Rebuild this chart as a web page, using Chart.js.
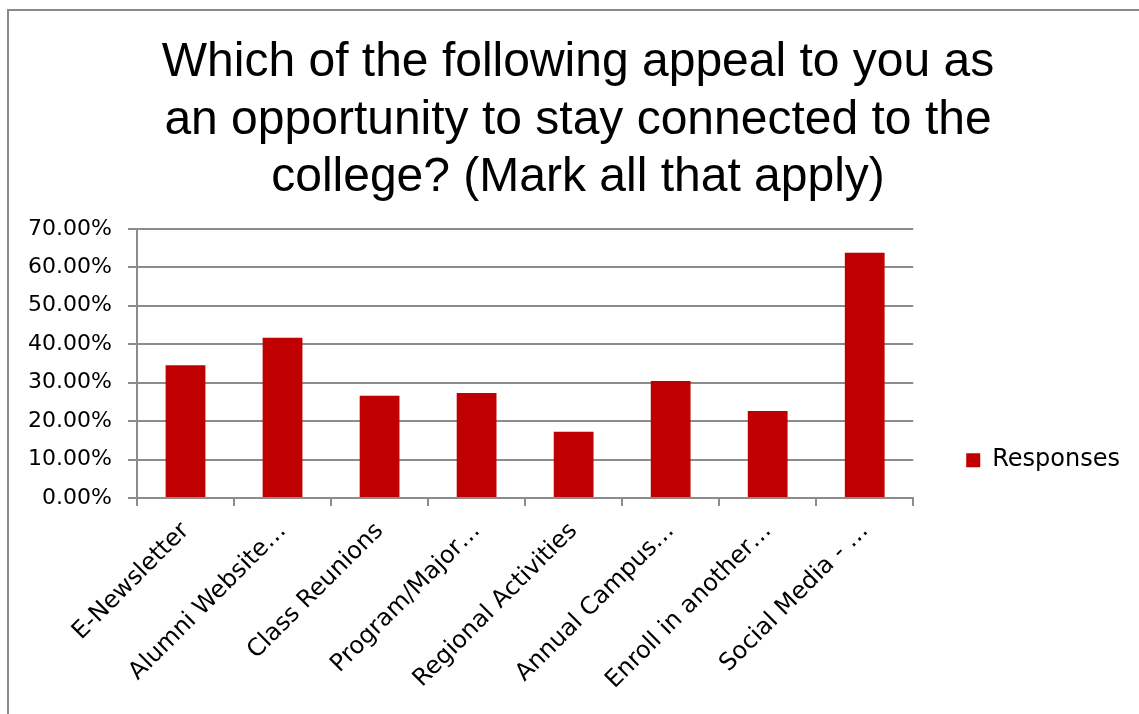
<!DOCTYPE html>
<html>
<head>
<meta charset="utf-8">
<script src="https://cdn.jsdelivr.net/npm/chart.js@4"></script>
<style>
  html, body { margin: 0; padding: 0; background: #fff; }
  canvas { display: block; }
</style>
</head>
<body>
<canvas id="chart" width="1139" height="714"></canvas>
<script>
// survey answers (share of respondents, %)
const categories = [
    "E-Newsletter",
    "Alumni Website…",
    "Class Reunions",
    "Program/Major…",
    "Regional Activities",
    "Annual Campus…",
    "Enroll in another…",
    "Social Media - …"
];
const responses = [34.5, 41.7, 26.6, 27.3, 17.2, 30.4, 22.6, 63.8];
const seriesName = "Responses";
const titleLines = [
    "Which of the following appeal to you as",
    "an opportunity to stay connected to the",
    "college? (Mark all that apply)"
];
const yMin = 0;
const yMax = 70;
const yStep = 10;

const gridGray = "#8c8c8c";
const barRed = "#c00000";
const labelFont = "'DejaVu Sans', sans-serif";

// outer chart border (left + top only, the rest is cropped)
const framePlugin = {
    id: "frame",
    beforeDraw(chart) {
        const ctx = chart.ctx;
        ctx.save();
        ctx.fillStyle = "#fff";
        ctx.fillRect(0, 0, chart.width, chart.height);
        ctx.strokeStyle = "#8a8a8a";
        ctx.lineWidth = 2;
        ctx.beginPath();
        ctx.moveTo(8, chart.height);
        ctx.lineTo(8, 10);
        ctx.lineTo(chart.width, 10);
        ctx.stroke();
        ctx.restore();
    }
};

const ctx = document.getElementById("chart").getContext("2d");
new Chart(ctx, {
    type: "bar",
    data: {
        labels: categories,
        datasets: [{
            label: seriesName,
            data: responses,
            backgroundColor: barRed,
            borderWidth: 0,
            barPercentage: 0.41,
            categoryPercentage: 1
        }]
    },
    options: {
        responsive: false,
        animation: false,
        layout: {
            padding: { left: 26, right: 9, top: 20, bottom: 6 }
        },
        plugins: {
            title: {
                display: true,
                text: titleLines,
                color: "#000",
                font: { family: "'Liberation Sans', Arial, sans-serif", size: 48, weight: "normal", lineHeight: 1.2 },
                padding: { top: 14, bottom: 22 }
            },
            legend: {
                position: "right",
                // empty title only pushes the single entry down to mid-height of the plot block
                title: {
                    display: true,
                    text: "",
                    font: { size: 12, lineHeight: 1.2 },
                    padding: { top: 178, bottom: 0 }
                },
                labels: {
                    color: "#000",
                    font: { family: labelFont, size: 24 },
                    boxWidth: 14,
                    boxHeight: 14,
                    padding: 53
                }
            },
            tooltip: { enabled: false }
        },
        scales: {
            x: {
                grid: {
                    drawOnChartArea: false,
                    drawTicks: true,
                    tickLength: 8,
                    color: gridGray,
                    lineWidth: 2
                },
                border: { display: true, color: gridGray, width: 2 },
                ticks: {
                    color: "#000",
                    font: { family: labelFont, size: 24 },
                    maxRotation: 45,
                    minRotation: 45,
                    autoSkip: false,
                    padding: 11
                },
                afterFit: (scale) => { scale.height = 210; }
            },
            y: {
                min: yMin,
                max: yMax,
                grid: {
                    color: gridGray,
                    lineWidth: 2,
                    drawTicks: true,
                    tickLength: 9
                },
                border: { display: true, color: gridGray, width: 2 },
                ticks: {
                    stepSize: yStep,
                    color: "#000",
                    font: { family: labelFont, size: 22 },
                    padding: 16,
                    callback: (value) => value.toFixed(2) + "%"
                },
                afterFit: (scale) => { scale.width = 111; }
            }
        }
    },
    plugins: [framePlugin]
});
</script>
</body>
</html>
